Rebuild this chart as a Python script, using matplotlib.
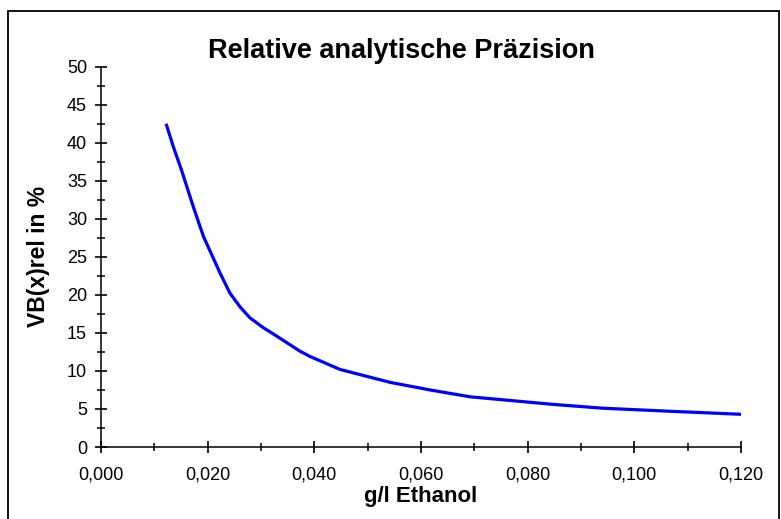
import matplotlib.pyplot as plt
from matplotlib.patches import Rectangle
from matplotlib.ticker import MultipleLocator, FuncFormatter

plt.rcParams['font.family'] = ['Liberation Sans', 'DejaVu Sans']

# g/l Ethanol vs. relative Verfahrensstandardabweichung
konz = [0.0122, 0.0136, 0.0151, 0.0173, 0.0192, 0.0223, 0.0242, 0.0261,
        0.0279, 0.0304, 0.0329, 0.0373, 0.0392, 0.0448, 0.0542, 0.0617,
        0.0692, 0.0848, 0.0941, 0.1067, 0.1200]
vb_rel = [42.5, 39.4, 36.4, 31.6, 27.7, 22.9, 20.2, 18.4,
          17.0, 15.7, 14.6, 12.6, 11.9, 10.2, 8.5, 7.5,
          6.6, 5.6, 5.1, 4.7, 4.3]

fig = plt.figure(figsize=(7.81, 5.19), dpi=100)
ax = fig.add_axes([101 / 781, 72 / 519, 640 / 781, 380.3 / 519])

ax.plot(konz, vb_rel, color='#0000ff', lw=2.3, solid_capstyle='butt')

ax.set_xlim(0, 0.12)
ax.set_ylim(0, 50)
ax.xaxis.set_major_locator(MultipleLocator(0.02))
ax.xaxis.set_minor_locator(MultipleLocator(0.01))
ax.yaxis.set_major_locator(MultipleLocator(5))
ax.yaxis.set_minor_locator(MultipleLocator(2.5))
ax.xaxis.set_major_formatter(FuncFormatter(lambda v, p: f'{v:.3f}'.replace('.', ',')))

for s in ['top', 'right']:
    ax.spines[s].set_visible(False)
for s in ['left', 'bottom']:
    ax.spines[s].set_linewidth(1.1)

ax.tick_params(which='major', direction='inout', length=8, width=1.2,
               labelsize=13, pad=6)
ax.tick_params(which='minor', direction='inout', length=5.5, width=1.1)
ax.tick_params(axis='x', which='major', pad=10)

fig.text(401 / 781, 1 - 51 / 519, 'Relative analytische Präzision', fontsize=19.5,
         fontweight='bold', ha='center', va='center')
ax.set_xlabel('g/l Ethanol', fontsize=16, fontweight='bold', labelpad=2)
ax.set_ylabel('VB(x)rel in %', fontsize=16.5, fontweight='bold', labelpad=12)

fig.patches.append(Rectangle((8 / 781, -0.01), 771 / 781, 1 - 11 / 519 + 0.01,
                             transform=fig.transFigure, fill=False,
                             edgecolor='black', lw=1.3))

fig.savefig('out.png', dpi=100)
